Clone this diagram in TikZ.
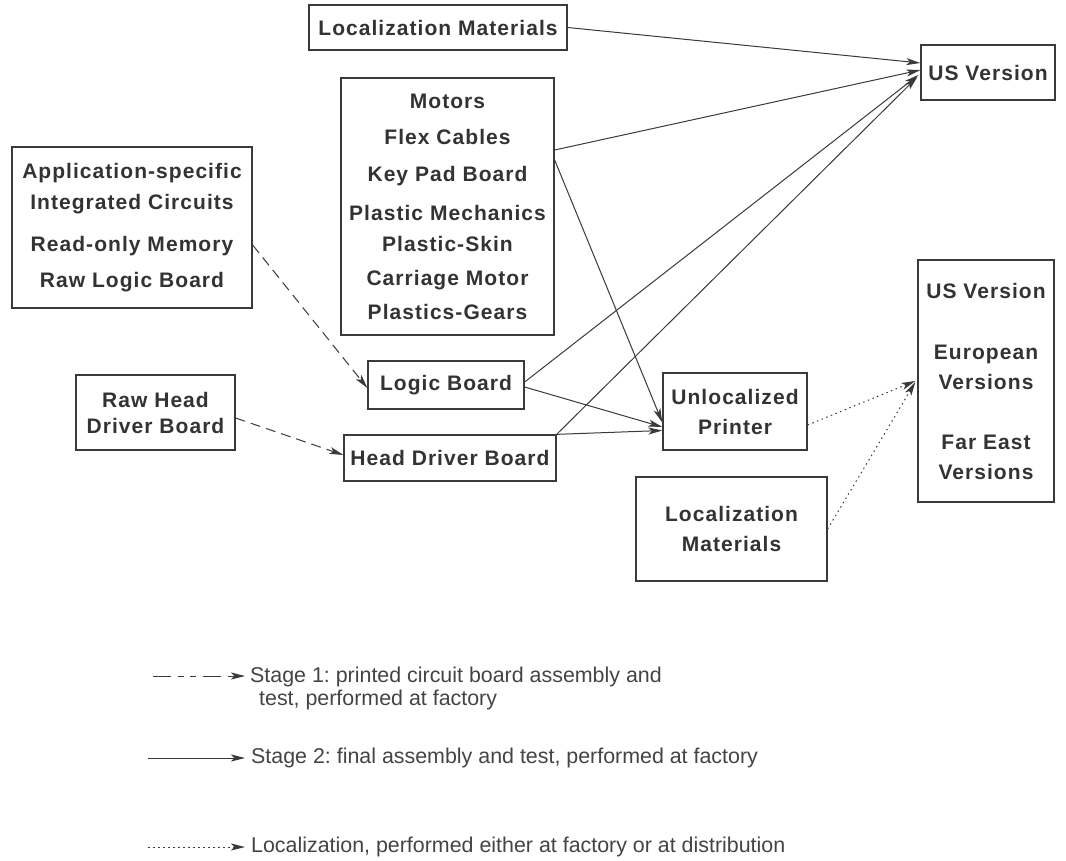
\documentclass[tikz,border=0pt]{standalone}
\usepackage{fontspec}
\setmainfont{Liberation Sans}
\newfontfamily\boxfont[LetterSpace=5]{Liberation Sans}
\usetikzlibrary{arrows.meta,calc}
\definecolor{linec}{HTML}{3A3A3A}
\definecolor{textc}{HTML}{333333}
\definecolor{legc}{HTML}{444444}
\tikzset{
  box/.style={draw=linec, line width=1.3pt, inner sep=0pt, align=center, text=textc,
    font=\boxfont\bfseries\fontsize{21}{30}\selectfont},
  conn/.style={draw=linec, line width=1pt, -{Stealth[length=14pt,width=7pt,inset=3.5pt]}},
  stageone/.style={conn, dash pattern=on 10pt off 6pt},
  localiz/.style={conn, dash pattern=on 1.5pt off 3.5pt},
  legtext/.style={anchor=west, inner sep=0pt, align=left, text=legc,
    font=\frenchspacing\fontsize{21.4}{23}\selectfont},
}
\begin{document}
\begin{tikzpicture}[x=1pt,y=-1pt]
\useasboundingbox[fill=white] (0,0) rectangle (1066,860);

% boxes
\node[box, minimum width=258pt, minimum height=45pt] (loc1) at (438,27.5) {Localization Materials};
\node[box, minimum width=134pt, minimum height=55pt] (us) at (988,72.5) {US Version};
\node[box, minimum width=213pt, minimum height=257pt] (mot) at (447.5,206.5)
  {Motors\\[6pt]Flex Cables\\[7pt]Key Pad Board\\[9pt]Plastic Mechanics\\[1pt]Plastic-Skin\\[4pt]Carriage Motor\\[4pt]Plastics-Gears};
\node[box, minimum width=240pt, minimum height=161pt] (app) at (132,227.5)
  {Application-specific\\[1pt]Integrated Circuits\\[12pt]Read-only Memory\\[6pt]Raw Logic Board};
\node[box, minimum width=156pt, minimum height=48pt] (logic) at (446,385) {Logic Board};
\node[box, minimum width=159pt, minimum height=75pt] (rawhead) at (155.5,412.5) {Raw Head\\[-4pt]Driver Board};
\node[box, minimum width=212pt, minimum height=46pt] (head) at (450,458) {Head Driver Board};
\node[box, minimum width=144pt, minimum height=77pt] (unl) at (735,411.5) {Unlocalized\\Printer};
\node[box, minimum width=191pt, minimum height=104pt] (loc2) at (731.5,529) {Localization\\Materials};
\node[box, minimum width=136pt, minimum height=242pt] (vers) at (986,381)
  {US Version\\[31pt]European\\Versions\\[30pt]Far East\\Versions};

% stage 2 connectors
\draw[conn] (loc1.east) -- ([yshift=9.5pt]us.west);
\draw[conn] ([yshift=56.5pt]mot.east) -- ([yshift=2.5pt]us.west);
\draw[conn] ([yshift=46.5pt]mot.east) -- ([yshift=-11pt]unl.west);
\draw[conn] ([yshift=3pt]logic.east) -- ([xshift=-2pt,yshift=-2.5pt]us.west);
\draw[conn] ([yshift=-2pt]logic.east) -- ([yshift=-15.5pt]unl.west);
\draw[conn] (head.north east) -- ([xshift=-3pt,yshift=-4.5pt]us.west);
\draw[conn] (head.north east) -- ([yshift=-19pt]unl.west);

% stage 1 connectors
\draw[stageone] ([yshift=-17.5pt]app.east) -- ([yshift=-3pt]logic.west);
\draw[stageone] ([yshift=-5.5pt]rawhead.east) -- ([yshift=3pt]head.west);

% localization connectors
\draw[localiz] ([yshift=-13.5pt]unl.east) -- ([xshift=-2pt]vers.west);
\draw[localiz] (loc2.east) -- ([xshift=-2pt,yshift=-1pt]vers.west);

% legend
\coordinate (l1a) at (153,676);
\coordinate (l1b) at (245,676);
\coordinate (l2a) at (148,758);
\coordinate (l2b) at (245,758);
\coordinate (l3a) at (148,847);
\coordinate (l3b) at (245,847);
\draw[stageone, dash pattern=on 18pt off 7pt on 6pt off 6pt on 6pt off 7pt] (l1a) -- (l1b);
\draw[conn] (l2a) -- (l2b);
\draw[localiz] (l3a) -- (l3b);
\node[legtext] (t1) at (250,688) {Stage 1: printed circuit board assembly and\\\hspace*{9pt}test, performed at factory};
\node[legtext] (t2) at (251,758) {Stage 2: final assembly and test, performed at factory};
\node[legtext] (t3) at (251,847) {Localization, performed either at factory or at distribution};
\end{tikzpicture}
\end{document}
